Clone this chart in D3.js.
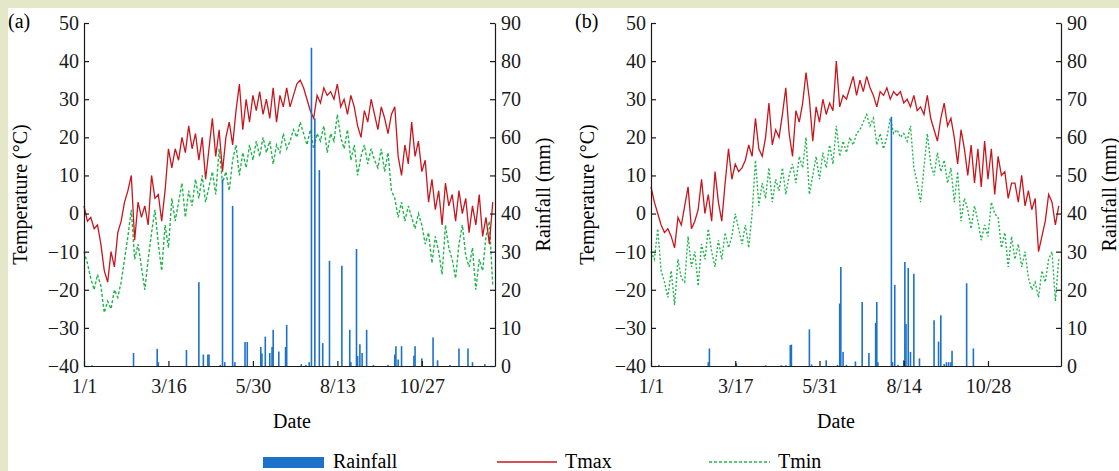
<!DOCTYPE html>
<html>
<head>
<meta charset="utf-8">
<script src="https://cdn.jsdelivr.net/npm/d3@7"></script>
<style>
  body { margin: 0; background: #fff; }
  svg { display: block; font-family: "Liberation Serif", "Times New Roman", serif; }
  .tick text { font-family: "Liberation Serif", "Times New Roman", serif; font-size: 20px; fill: #1a1a1a; }
  .domain, .tick line { stroke: #1a1a1a; stroke-width: 1.2; }
</style>
</head>
<body>
<svg id="chart"></svg>
<script>
// daily series sampled every STEP days, starting 1/1
const STEP = 3;

const tmaxA = [2,-2,-1,-4,-3,-8,-15,-18,-10,-14,-5,-2,3,6,10,-7,3,-1,2,-3,10,4,5,-2,6,
  17,12,17,14,20,16,23,17,21,14,20,9,17,25,15,22,11,20,24,18,27,34,22,30,24,
  31,27,32,26,30,25,33,24,31,28,33,28,31,34,35,33,30,27,25,31,29,33,31,32,30,
  34,28,30,26,31,28,23,20,27,24,30,26,22,28,25,21,26,28,15,10,18,13,24,15,19,
  11,14,3,9,1,6,-3,8,2,5,-2,6,0,4,-5,2,-3,5,-6,-1,-8,3];
const tminA = [-10,-13,-17,-20,-16,-19,-26,-23,-25,-20,-22,-18,-12,-6,1,-12,-8,-14,-20,-12,-5,1,-8,-15,-3,
  -9,4,-2,3,8,-1,6,2,9,4,10,3,7,11,5,17,8,11,6,14,18,10,16,12,18,
  14,19,15,20,16,19,13,18,16,21,17,19,22,20,24,21,18,22,17,21,19,23,16,21,19,
  26,20,17,22,14,18,10,15,18,13,17,14,12,17,11,16,6,4,-1,3,-2,2,-1,-4,0,
  -3,-8,-5,-13,-6,-10,-16,-3,-9,-12,-17,-8,-3,-11,-14,-9,-20,-12,-15,-6,-2,-19];
const rainDaysA = [7,44,65,66,91,102,106,110,111,121,123,125,132,134,143,145,157,158,161,165,167,168,173,179,180,
  193,197,200,202,205,209,212,218,229,236,237,242,243,245,247,251,257,270,276,277,279,282,293,294,300,310,314,325,333,341,345,356];
const rainA = [0.2,3.4,4.5,1,4.2,22,3,3,3,0.3,49,1,42,1,6.3,6.3,5,3.3,7.7,3.4,5,9.5,3.8,5,10.8,
  0.5,0.3,1,83.5,65,51.4,6,27.6,26.3,9.5,1,30.7,2.6,5.7,3.4,9.5,0.3,0.3,3,5.2,1.7,5.2,2.7,5.2,2,7.5,1.5,0.3,4.6,4.6,1,0.5];

const tmaxB = [7,3,0,-3,-5,-4,-6,-9,-1,-3,2,7,-4,-2,1,9,0,5,-2,11,3,-2,8,17,9,
  13,11,12,14,18,15,25,17,15,20,29,18,22,20,26,33,21,15,27,24,29,37,30,19,28,
  24,30,26,29,27,40,28,31,30,33,36,31,35,32,36,33,31,28,32,31,33,30,32,31,32,
  29,30,28,31,27,28,26,31,25,22,19,25,29,23,25,20,13,22,17,10,18,8,17,7,19,
  9,17,5,15,10,11,4,8,8,3,10,2,6,1,4,-10,-6,-2,5,3,-3,2];
const tminB = [-10,-12,-4,-15,-18,-22,-15,-24,-12,-17,-18,-6,-14,-10,-19,-8,-12,-4,-10,-14,-7,-12,-5,-9,-6,
  0,-4,-8,-3,-9,0,14,2,8,4,12,3,9,6,12,5,10,13,8,15,12,20,5,10,15,
  9,16,12,18,13,23,15,19,16,20,18,21,22,24,26,23,25,18,21,17,20,25,21,22,20,
  21,19,23,12,8,3,12,21,13,10,16,11,14,8,12,3,11,-2,4,1,-4,2,-2,-7,-3,
  -6,3,0,-1,-9,-5,-14,-6,-12,-8,-14,-10,-17,-20,-18,-22,-15,-18,-12,-10,-23,-12];
const rainDaysB = [7,51,52,76,102,116,120,124,125,141,143,156,166,168,169,171,174,182,188,194,200,201,202,
  214,215,217,220,225,226,227,229,231,234,239,252,256,258,261,263,265,267,268,281,287];
const rainB = [0.3,1,4.6,0.7,0.2,0.2,0.2,5.5,5.6,9.6,0.4,1.5,0.3,16.4,26,3.7,0.3,1.2,16.8,3.4,11.3,16.8,1,
  65.4,1,21.3,0.3,1.5,27.3,11,25.7,3.7,24.2,2,12,6.4,13.3,0.5,1,1,1,4,21.7,4.6];

const tickDays = [0, 75, 150, 225, 300];
const dateLabelsA = ['1/1', '3/16', '5/30', '8/13', '10/27'];
const dateLabelsB = ['1/1', '3/17', '5/31', '8/14', '10/28'];

const RED = '#c8161d', GREEN = '#1fb64c', BLUE = '#1b72c8';

class ClimatePanel {

    constructor(_config, _data) {
        this.config = {
            parentElement: _config.parentElement,
            left: _config.left,
            right: _config.right,
            top: 23,
            bottom: 366,
            tag: _config.tag,
            dateX: _config.dateX,
            dateLabels: _config.dateLabels,
            dash: _config.dash
        }
        this.data = _data;
        this.initVis();
    }

    initVis() {
        let vis = this;
        const c = vis.config;

        vis.xScale = d3.scaleLinear().domain([0, 365]).range([c.left, c.right]);
        vis.yTemp = d3.scaleLinear().domain([-40, 50]).range([c.bottom, c.top]);
        vis.yRain = d3.scaleLinear().domain([0, 90]).range([c.bottom, c.top]);

        vis.chart = d3.select(c.parentElement).append('g');

        vis.xAxis = d3.axisBottom(vis.xScale)
            .tickValues(tickDays)
            .tickFormat((d, i) => c.dateLabels[i])
            .tickSizeInner(-5).tickSizeOuter(0).tickPadding(13);
        vis.yAxis = d3.axisLeft(vis.yTemp)
            .tickValues(d3.range(-40, 51, 10))
            .tickSizeInner(-5).tickSizeOuter(0).tickPadding(5);
        vis.rAxis = d3.axisRight(vis.yRain)
            .tickValues(d3.range(0, 91, 10))
            .tickSizeInner(-5).tickSizeOuter(0).tickPadding(6);

        vis.renderVis();
    }

    renderVis() {
        let vis = this;
        const c = vis.config;

        const line = d3.line()
            .x((d, i) => vis.xScale(i * STEP))
            .y(d => vis.yTemp(d));

        vis.chart.append('path')
            .datum(vis.data.tmin)
            .attr('fill', 'none')
            .attr('stroke', GREEN)
            .attr('stroke-width', 1.4)
            .attr('stroke-dasharray', c.dash)
            .attr('d', line);

        vis.chart.append('path')
            .datum(vis.data.tmax)
            .attr('fill', 'none')
            .attr('stroke', RED)
            .attr('stroke-width', 1.3)
            .attr('d', line);

        // rainfall bars
        const rain = vis.data.rainDays.map((d, i) => ({day: d, mm: vis.data.rain[i]}));
        vis.chart.selectAll('.bar')
            .data(rain)
            .join('rect')
            .attr('class', 'bar')
            .attr('x', d => vis.xScale(d.day) - 0.8)
            .attr('width', 1.6)
            .attr('y', d => vis.yRain(d.mm))
            .attr('height', d => vis.yRain(0) - vis.yRain(d.mm))
            .attr('fill', BLUE);

        vis.chart.append('g')
            .attr('transform', `translate(0,${c.bottom})`)
            .call(vis.xAxis);
        vis.chart.append('g')
            .attr('transform', `translate(${c.left},0)`)
            .call(vis.yAxis);
        vis.chart.append('g')
            .attr('transform', `translate(${c.right},0)`)
            .call(vis.rAxis);
        vis.chart.selectAll('.tick text').attr('font-family', null);

        const midY = (c.top + c.bottom) / 2;
        vis.chart.append('text')
            .attr('transform', `translate(${c.left - 64},${midY}) rotate(-90)`)
            .attr('text-anchor', 'middle')
            .attr('dy', '0.35em')
            .attr('font-size', 20)
            .text('Temperature (°C)');
        vis.chart.append('text')
            .attr('transform', `translate(${c.right + 48},${midY}) rotate(-90)`)
            .attr('text-anchor', 'middle')
            .attr('dy', '0.35em')
            .attr('font-size', 20)
            .text('Rainfall (mm)');

        vis.chart.append('text')
            .attr('x', c.dateX)
            .attr('y', 428)
            .attr('text-anchor', 'middle')
            .attr('font-size', 20)
            .text('Date');

        vis.chart.append('text')
            .attr('x', c.left - 76)
            .attr('y', 28)
            .attr('font-size', 20)
            .text(c.tag);
    }
}

const svg = d3.select('#chart')
    .attr('width', 1119)
    .attr('height', 471);

svg.append('rect').attr('width', 1119).attr('height', 471).attr('fill', '#fff');
svg.append('rect').attr('width', 1119).attr('height', 8).attr('fill', '#e4e8c9');
svg.append('rect').attr('width', 8).attr('height', 471).attr('fill', '#e4e8c9');

new ClimatePanel({parentElement: '#chart', left: 84, right: 495, tag: '(a)', dateX: 292,
    dateLabels: dateLabelsA, dash: '3,2'},
    {tmax: tmaxA, tmin: tminA, rainDays: rainDaysA, rain: rainA});
new ClimatePanel({parentElement: '#chart', left: 651, right: 1061, tag: '(b)', dateX: 836,
    dateLabels: dateLabelsB, dash: '2,2'},
    {tmax: tmaxB, tmin: tminB, rainDays: rainDaysB, rain: rainB});

// legend
const legend = svg.append('g').attr('font-size', 20);
legend.append('rect').attr('x', 263).attr('y', 457).attr('width', 61).attr('height', 11).attr('fill', BLUE);
legend.append('text').attr('x', 333).attr('y', 468).text('Rainfall');
legend.append('line').attr('x1', 497).attr('x2', 557).attr('y1', 462).attr('y2', 462)
    .attr('stroke', RED).attr('stroke-width', 1.5);
legend.append('text').attr('x', 565).attr('y', 468).text('Tmax');
legend.append('line').attr('x1', 709).attr('x2', 770).attr('y1', 462).attr('y2', 462)
    .attr('stroke', GREEN).attr('stroke-width', 1.5).attr('stroke-dasharray', '3,2');
legend.append('text').attr('x', 778).attr('y', 468).text('Tmin');
</script>
</body>
</html>
